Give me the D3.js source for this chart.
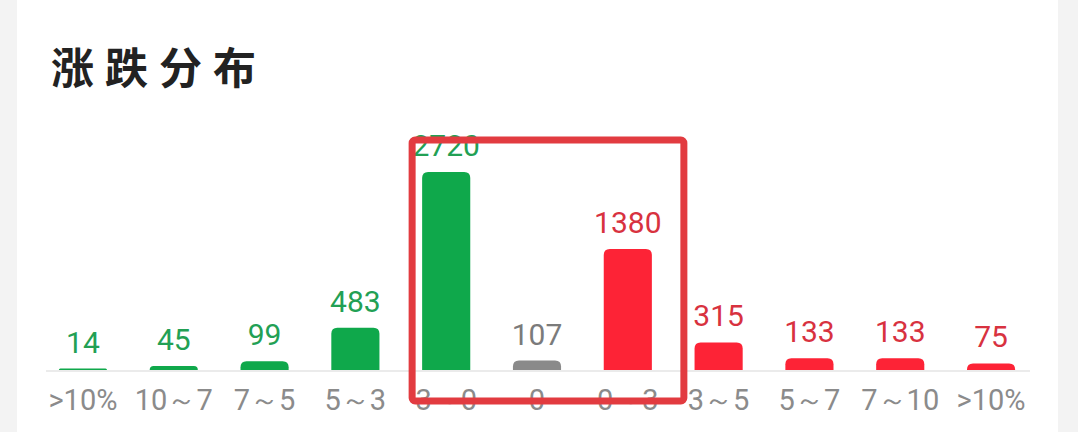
<!DOCTYPE html>
<html>
<head>
<meta charset="utf-8">
<script src="https://cdn.jsdelivr.net/npm/d3@7"></script>
<style>
  html, body { margin: 0; padding: 0; background: #f3f3f3; }
  svg { display: block; }
  .title { font-family: "Noto Sans CJK SC", sans-serif; font-weight: 700; fill: #222; }
  .num, .cat { font-family: Roboto, "Noto Sans", sans-serif; }
</style>
</head>
<body>
<svg id="chart" width="1078" height="432"></svg>
<script>
const categories = [">10%", "10～7", "7～5", "5～3", "3～0", "0", "0～3", "3～5", "5～7", "7～10", ">10%"];
const counts = [14, 45, 99, 483, 2720, 107, 1380, 315, 133, 133, 75];
const sides = ["down", "down", "down", "down", "down", "flat", "up", "up", "up", "up", "up"];
// the box drawn round the middle of the chart (from 3~0 to 0~3)
const boxed = [4, 6];

const width = 1078, height = 432;
const baseY = 370;

const barColour = { down: "#0fa84b", flat: "#8a8a8a", up: "#fd2336" };
const textColour = { down: "#22a054", flat: "#7b7b7b", up: "#d8323f" };

const svg = d3.select('#chart');

// white card
svg.append('rect')
  .attr('x', 17).attr('y', -20)
  .attr('width', 1041).attr('height', 480)
  .attr('rx', 16)
  .attr('fill', '#fff');

svg.append('text')
  .attr('class', 'title')
  .attr('x', 51).attr('y', 84)
  .attr('font-size', 43)
  .attr('letter-spacing', 11)
  .text('涨跌分布');

const idx = counts.map((d, i) => i);

const xScale = d3.scaleBand()
  .domain(idx)
  .range([38, 1036])
  .paddingInner(0.47)
  .paddingOuter(0.23);

// the app squeezes the tallest bar so its label still fits, so the scale bends above 1380
const hScale = d3.scaleLinear()
  .domain([0, 1380, 2720])
  .range([0, 121, 198]);

// baseline
svg.append('line')
  .attr('x1', 46).attr('x2', 1030)
  .attr('y1', baseY + 1).attr('y2', baseY + 1)
  .attr('stroke', '#ebebeb')
  .attr('stroke-width', 2);

const topRounded = (x, y, w, h, r) => {
  r = Math.min(r, h, w / 2);
  return `M${x},${y + h} V${y + r} Q${x},${y} ${x + r},${y} H${x + w - r} Q${x + w},${y} ${x + w},${y + r} V${y + h} Z`;
};

const bw = xScale.bandwidth();

svg.selectAll('.bar').data(idx).enter()
  .append('path')
  .attr('class', 'bar')
  .attr('fill', i => barColour[sides[i]])
  .attr('d', i => {
    const h = Math.max(1.5, hScale(counts[i]));
    return topRounded(xScale(i), baseY - h, bw, h, 6);
  });

svg.selectAll('.num').data(idx).enter()
  .append('text')
  .attr('class', 'num')
  .attr('x', i => xScale(i) + bw / 2)
  .attr('y', i => baseY - Math.max(1.5, hScale(counts[i])) - 16)
  .attr('text-anchor', 'middle')
  .attr('font-size', 30)
  .attr('fill', i => textColour[sides[i]])
  .text(i => counts[i]);

svg.selectAll('.cat').data(idx).enter()
  .append('text')
  .attr('class', 'cat')
  .attr('x', i => xScale(i) + bw / 2)
  .attr('y', 410)
  .attr('text-anchor', 'middle')
  .attr('font-size', 29)
  .attr('fill', '#8b8b8b')
  .text(i => categories[i]);

// red highlight box
const boxL = xScale(boxed[0]) - 10;
const boxR = xScale(boxed[1]) + bw + 32;
svg.append('rect')
  .attr('x', boxL).attr('y', 140)
  .attr('width', boxR - boxL).attr('height', 261)
  .attr('rx', 3)
  .attr('fill', 'none')
  .attr('stroke', '#e23b40')
  .attr('stroke-width', 7);
</script>
</body>
</html>
